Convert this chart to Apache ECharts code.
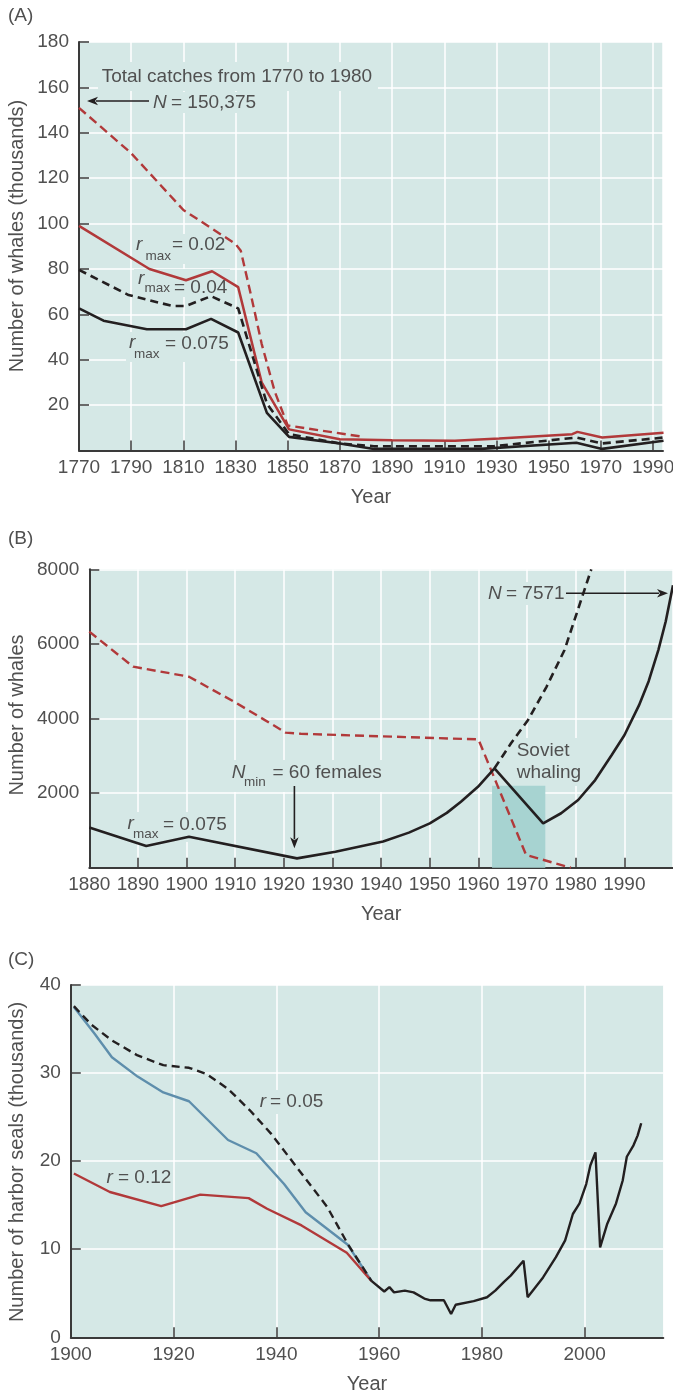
<!DOCTYPE html>
<html><head><meta charset="utf-8">
<script src="https://cdn.jsdelivr.net/npm/echarts@6/dist/echarts.min.js"></script>
<style>html,body{margin:0;padding:0;background:#fff}#c{width:673px;height:1393px}</style>
</head><body><div id="c"></div>
<script>
// ---------- Panel A (thousands of whales) ----------
const aCatches = [[1770,151],[1790,131],[1810,106],[1830,91],[1832,88],[1836,68],[1840,47],[1845,26],[1850,11],[1879,6]];
const aR002 = [[1770,99],[1797,80],[1811,75],[1821,79],[1831,72],[1840,30],[1850.5,9.3],[1870,5],[1890,4.5],[1914,4.3],[1931,5.3],[1959,7.2],[1961,8.2],[1970.5,5.7],[1994,7.8]];
const aR004 = [[1770,79.6],[1789,68.5],[1805.7,63.7],[1811,63.7],[1820.6,68],[1831,62.6],[1842,20.7],[1850.5,7.2],[1870,3.1],[1883,1.9],[1929,1.9],[1960.6,5.7],[1970.5,3.1],[1994,5.7]];
const aR0075 = [[1770,62.6],[1779.4,57.2],[1796,53.4],[1811,53.4],[1820.6,58],[1831,52],[1842,16.6],[1850.5,6],[1870,3.1],[1883,0.7],[1924,0.7],[1960.6,3.4],[1970.5,0.7],[1994,4.3]];
const aXRange = [1770, 1993.8], aXStep = 20;
const aYRange = [0, 180], aYStep = 20;

// ---------- Panel B (number of whales) ----------
const bCatches = [[1880,6330],[1889,5390],[1900.5,5120],[1910.3,4410],[1920.4,3620],[1923.5,3590],[1960,3440],[1969.8,340],[1979,0]];
const bR0075 = [[1880,1080],[1891.7,580],[1900.5,830],[1922.7,250],[1930.6,430],[1940.4,700],[1945.7,940],[1950,1190],[1953.5,1470],[1956.4,1770],[1959.9,2170],[1963.3,2665],[1973.3,1190],[1977,1460],[1980.5,1815],[1984,2350],[1987.4,3020],[1990,3550],[1993,4350],[1995,5000],[1997,5840],[1998.5,6600],[2000,7571]];
const bNoSoviet = [[1963.3,2665],[1966.7,3335],[1970.2,3960],[1974,4850],[1977.7,5836],[1983.2,8000]];
const bSoviet = [1962.8, 1973.75, 2200];
const bXRange = [1880, 2000], bXStep = 10;
const bYRange = [0, 8000], bYStep = 2000;

// ---------- Panel C (thousands of harbor seals) ----------
const cNoHarvest = [[1900.6,37.5],[1904.6,34.5],[1908,31.8],[1913,29.6],[1918,27.8],[1923,26.8],[1930.6,22.4],[1936.1,20.9],[1941.5,17.4],[1945.7,14.2],[1953.9,10.5],[1958.5,6.4]];
const cR012 = [[1900.6,18.6],[1907.6,16.5],[1917.6,14.9],[1925.2,16.2],[1934.6,15.8],[1938.2,14.6],[1944.9,12.7],[1953.7,9.6],[1958.5,6.4]];
const cR005 = [[1900.6,37.6],[1904,35.5],[1908,33.7],[1913,32],[1918,30.9],[1923,30.6],[1926.4,29.9],[1930.6,28.2],[1934.8,25.8],[1939,23.1],[1944.9,18.6],[1949.9,14.8],[1953.9,10.6],[1958.5,6.4]];
const cObserved = [[1958.5,6.4],[1961,5.2],[1962,5.7],[1962.9,5.1],[1965,5.3],[1966.7,5.1],[1968.8,4.4],[1970,4.2],[1972.6,4.2],[1974,2.65],[1974.9,3.7],[1978.4,4.1],[1981,4.55],[1982.6,5.3],[1984.3,6.3],[1985.6,7.0],[1988.1,8.7],[1988.9,4.55],[1991.9,6.8],[1994.4,9.1],[1996.2,11.0],[1997.7,14.0],[1999,15.2],[2000.3,17.4],[2001.1,19.5],[2002.1,21.0],[2003,10.2],[2004.4,12.9],[2006.1,15.2],[2007.4,17.8],[2008.2,20.5],[2009.5,21.8],[2010.3,22.9],[2011,24.3]];
const cXRange = [1900, 2015.3], cXStep = 20;
const cYRange = [0, 40], cYStep = 10;

// ---------- styles ----------
const FONT = '"Liberation Sans", Arial, sans-serif';
const TEXT = '#505050', AX = '#3a3a3a', BG = '#d5e8e6', RED = '#b1393a', BLK = '#231f20', BLUE = '#5e8eac', SHADE = '#a7d3d1';
const SUB = 13.5;

function xAx(gi, range, step, hideMax) {
  return {
    gridIndex: gi, type: 'value', min: range[0], max: range[1], interval: step,
    name: 'Year', nameLocation: 'middle', nameGap: 37,
    nameTextStyle: {fontSize: 20, color: TEXT, fontFamily: FONT},
    axisLine: {show: true, onZero: false, lineStyle: {color: AX, width: 2}},
    axisTick: {show: true, inside: true, length: 10, lineStyle: {color: AX, width: 1.5}},
    axisLabel: {fontSize: 19, color: TEXT, fontFamily: FONT, margin: 8, showMaxLabel: !hideMax,
      formatter: v => (Math.abs(((v - range[0]) % step)) < 1e-6 ? String(v) : '')},
    splitLine: {show: true, lineStyle: {color: '#ffffff', width: 1.5}}
  };
}
function yAx(gi, range, step, showZero) {
  return {
    gridIndex: gi, type: 'value', min: range[0], max: range[1], interval: step,
    axisLine: {show: true, onZero: false, lineStyle: {color: AX, width: 2}},
    axisTick: {show: true, inside: true, length: 10, lineStyle: {color: AX, width: 1.5}},
    axisLabel: {fontSize: 19, color: TEXT, fontFamily: FONT, margin: 10,
      formatter: v => (v === 0 && !showZero ? '' : String(v))},
    splitLine: {show: true, lineStyle: {color: '#ffffff', width: 1.5}}
  };
}
function ln(gi, data, color, dashed, width, z) {
  return {type: 'line', xAxisIndex: gi, yAxisIndex: gi, data: data, symbol: 'none', showSymbol: false,
    lineStyle: {color: color, width: width || 2.5, type: dashed ? (color === RED ? [9, 5] : [8, 5]) : 'solid'},
    z: z || 2, silent: true, clip: true};
}

// ---------- annotation helpers (pixel layout) ----------
function txt(x, y, s, o) {
  o = o || {};
  return {type: 'text', x: x, y: y, z: 10, rotation: o.rot || 0,
    style: {text: s, fill: TEXT, fontSize: o.size || 19, fontFamily: FONT,
      fontStyle: o.italic ? 'italic' : 'normal', align: o.align || 'left', verticalAlign: 'middle'}};
}
function box(x, y, w, h) {
  return {type: 'rect', z: 1, shape: {x: x, y: y, width: w, height: h}, style: {fill: BG}};
}
function arrow(x1, y1, x2, y2) {
  const dx = x2 - x1, dy = y2 - y1, L = Math.sqrt(dx * dx + dy * dy), ux = dx / L, uy = dy / L;
  const hl = 11, hw = 4.2, bx = x2 - ux * hl, by = y2 - uy * hl;
  return [
    {type: 'line', z: 10, shape: {x1: x1, y1: y1, x2: bx + ux * 2, y2: by + uy * 2}, style: {stroke: BLK, lineWidth: 1.6}},
    {type: 'polygon', z: 10, shape: {points: [[x2, y2], [bx - uy * hw, by + ux * hw], [bx + ux * 3, by + uy * 3], [bx + uy * hw, by - ux * hw]]}, style: {fill: BLK}}
  ];
}

const graphics = [].concat(
  // panel labels & y titles
  [txt(8, 16, '(A)'), txt(8, 539, '(B)'), txt(8, 960, '(C)'),
   txt(17, 236, 'Number of whales (thousands)', {rot: Math.PI / 2, align: 'center', size: 20}),
   txt(17, 715, 'Number of whales', {rot: Math.PI / 2, align: 'center', size: 20}),
   txt(17, 1162, 'Number of harbor seals (thousands)', {rot: Math.PI / 2, align: 'center', size: 20})],
  // Panel A annotations
  [box(98, 62, 280, 29), txt(101.7, 76.5, 'Total catches from 1770 to 1980'),
   box(150, 92, 110, 21), txt(153, 102.5, 'N', {italic: true}), txt(171, 102.5, '= 150,375')],
  arrow(149, 101, 87, 101),
  [box(132, 234, 96, 30), txt(136, 245, 'r', {italic: true}), txt(145.5, 256, 'max', {size: SUB}), txt(172, 245, '= 0.02'),
   box(134, 269, 96, 28), txt(138, 279, 'r', {italic: true}), txt(144.5, 288, 'max', {size: SUB}), txt(174, 287.5, '= 0.04'),
   box(126, 332, 104, 30), txt(129, 343, 'r', {italic: true}), txt(134, 354, 'max', {size: SUB}), txt(165, 343.5, '= 0.075')],
  // Panel B annotations
  [box(228, 760, 155, 32), txt(231.8, 772.5, 'N', {italic: true}), txt(244, 782.5, 'min', {size: SUB}), txt(272.5, 772.5, '= 60 females')],
  arrow(294.4, 786, 294.4, 848.3),
  [box(124, 812, 104, 30), txt(127.5, 824, 'r', {italic: true}), txt(133, 834, 'max', {size: SUB}), txt(163, 824.5, '= 0.075'),
   box(485, 582, 80, 23), txt(488, 593.3, 'N', {italic: true}), txt(506, 593.3, '= 7571'),
   box(513, 738, 75, 48), txt(516.7, 750.5, 'Soviet'), txt(516.7, 773, 'whaling')],
  arrow(566, 593.3, 668, 593.3),
  // Panel C annotations
  [box(256, 1090, 68, 24), txt(259.7, 1102, 'r', {italic: true}), txt(270, 1102, '= 0.05'),
   box(103, 1165, 68, 24), txt(106.4, 1177.5, 'r', {italic: true}), txt(118, 1177.5, '= 0.12')]
);

const chart = echarts.init(document.getElementById('c'), null, {renderer: 'canvas'});
chart.setOption({
  animation: false,
  textStyle: {fontFamily: FONT},
  grid: [
    {left: 79, top: 42, right: 10, bottom: 1393 - 450.5, show: true, backgroundColor: BG, borderWidth: 0, containLabel: false, outerBoundsMode: 'none'},
    {left: 89.3, top: 569.3, right: 0, bottom: 1393 - 867.7, show: true, backgroundColor: BG, borderWidth: 0, containLabel: false, outerBoundsMode: 'none'},
    {left: 70.8, top: 985, right: 9.7, bottom: 1393 - 1337.3, show: true, backgroundColor: BG, borderWidth: 0, containLabel: false, outerBoundsMode: 'none'}
  ],
  xAxis: [xAx(0, aXRange, aXStep, true), xAx(1, bXRange, bXStep, true), xAx(2, cXRange, cXStep, true)],
  yAxis: [yAx(0, aYRange, aYStep, false), yAx(1, bYRange, bYStep, false), yAx(2, cYRange, cYStep, true)],
  series: [
    ln(0, aCatches, RED, true, 2.4),
    ln(0, aR002, RED, false, 2.5),
    ln(0, aR004, BLK, true, 2.6),
    ln(0, aR0075, BLK, false, 2.6),
    {type: 'line', xAxisIndex: 1, yAxisIndex: 1, data: [], z: 1, silent: true,
      markArea: {silent: true, itemStyle: {color: SHADE, opacity: 1},
        data: [[{xAxis: bSoviet[0], yAxis: 0}, {xAxis: bSoviet[1], yAxis: bSoviet[2]}]]}},
    ln(1, bCatches, RED, true, 2.4),
    ln(1, bNoSoviet, BLK, true, 2.6),
    ln(1, bR0075, BLK, false, 2.6),
    ln(2, cNoHarvest, BLUE, false, 2.4),
    ln(2, cR012, RED, false, 2.4),
    ln(2, cR005, BLK, true, 2.4),
    ln(2, cObserved, BLK, false, 2.4)
  ],
  graphic: graphics
});
</script></body></html>
